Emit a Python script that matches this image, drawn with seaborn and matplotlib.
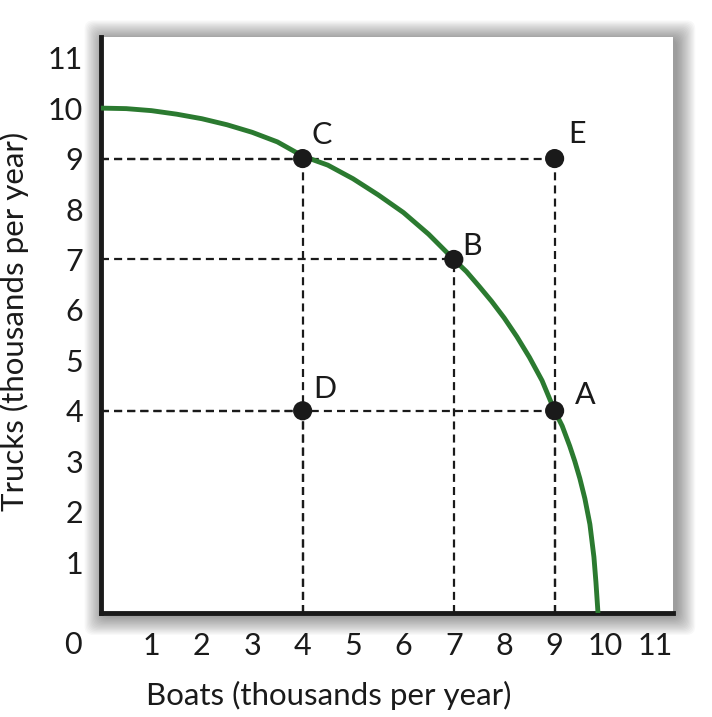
import numpy as np
import pandas as pd
import matplotlib.pyplot as plt
from matplotlib.patches import FancyBboxPatch
import seaborn as sns

# Production possibilities curve
boats = [0, 0.5, 1, 1.5, 2, 2.5, 3, 3.5, 4, 4.5, 5, 5.5, 6, 6.5, 7, 7.25, 7.5, 7.75,
         8, 8.25, 8.5, 8.75, 9, 9.15, 9.3, 9.4, 9.5, 9.6, 9.7, 9.78, 9.82, 9.86]
trucks = [10, 9.99, 9.95, 9.88, 9.79, 9.67, 9.52, 9.33, 9.05, 8.87, 8.6, 8.28, 7.93, 7.5, 7.0,
          6.76, 6.47, 6.17, 5.84, 5.47, 5.06, 4.6, 4.0, 3.7, 3.3, 3.0, 2.66, 2.26, 1.75, 1.1, 0.6, 0]

# labelled points
point_names = ['A', 'B', 'C', 'D', 'E']
point_x = [9, 7, 4, 4, 9]
point_y = [4, 7, 9, 4, 9]
label_offsets = [(22, 11), (13, 10), (14, 17), (16, 16), (16, 18)]

tick_values = list(range(1, 12))

sns.set_style('white')
plt.rcParams['font.family'] = ['Lato', 'DejaVu Sans']

fig = plt.figure(figsize=(7.12, 7.17), dpi=100)
x0, y0, w, h = 0.1419, 0.1457, 0.8034, 0.8027
ax = fig.add_axes([x0, y0, w, h])

# soft shadow behind the plot box
for i in range(16, 0, -1):
    pad = i * 0.0017
    fig.patches.append(FancyBboxPatch((x0 - pad + 0.004, y0 - pad - 0.004), w + 2 * pad, h + 2 * pad,
                                      boxstyle='round,pad=0,rounding_size=0.012',
                                      transform=fig.transFigure, facecolor='black',
                                      edgecolor='none', alpha=0.028, zorder=0))
ax.set_facecolor('white')
ax.set_zorder(1)

df_curve = pd.DataFrame({'Boats': boats, 'Trucks': trucks})
df_pts = pd.DataFrame({'name': point_names, 'x': point_x, 'y': point_y})

# dashed guide lines
dash = dict(color='#1a1a1a', lw=1.6, ls=(0, (3.6, 2.3)), zorder=2)
for px, py in zip(point_x, point_y):
    ax.plot([0, px], [py, py], **dash)
    ax.plot([px, px], [0, py], **dash)

sns.lineplot(data=df_curve, x='Boats', y='Trucks', sort=False, estimator=None,
             color='#2b7a30', lw=3.5, ax=ax, zorder=3)
sns.scatterplot(data=df_pts, x='x', y='y', s=190, color='#1a1a1a', edgecolor='none',
                ax=ax, zorder=4)

for name, px, py, off in zip(point_names, point_x, point_y, label_offsets):
    ax.annotate(name, (px, py), xytext=off, textcoords='offset points',
                ha='center', va='center', fontsize=22, color='#1a1a1a')

ax.set_xlim(0, 11.35)
ax.set_ylim(0, 11.41)
ax.set_xticks(tick_values)
ax.set_yticks(tick_values)
ax.tick_params(axis='both', length=0, labelsize=22, colors='#1a1a1a')
ax.tick_params(axis='x', pad=14)
ax.tick_params(axis='y', pad=13)
ax.text(-0.55, -0.65, '0', fontsize=22, color='#1a1a1a', ha='center', va='center')

for side in ['top', 'right']:
    ax.spines[side].set_visible(False)
for side in ['left', 'bottom']:
    ax.spines[side].set_linewidth(3.5)
    ax.spines[side].set_color('#1a1a1a')

ax.set_xlabel('Boats (thousands per year)', fontsize=22.5, color='#1a1a1a')
ax.set_ylabel('Trucks (thousands per year)', fontsize=22.5, color='#1a1a1a')
ax.xaxis.set_label_coords(0.398, -0.118)
ax.yaxis.set_label_coords(-0.126, 0.505)

fig.savefig('out.png', dpi=100, facecolor='white')
